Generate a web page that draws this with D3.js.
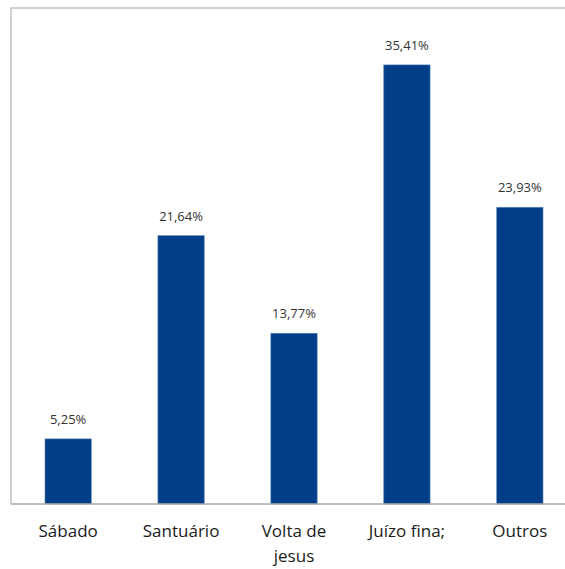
<!DOCTYPE html>
<html>
<head>
<meta charset="utf-8">
<script src="https://cdn.jsdelivr.net/npm/d3@7"></script>
<style>
  body { margin: 0; background: #fff; }
  svg { display: block; font-family: "Open Sans", sans-serif; }
</style>
</head>
<body>
<svg id="chart" width="565" height="569"></svg>
<script>
// Chart data
var categories = ["Sábado", "Santuário", "Volta de jesus", "Juízo fina;", "Outros"];
var values = [5.25, 21.64, 13.77, 35.41, 23.93];

var svg = d3.select("#chart");

// Plot box: left/top frame at 11/8, baseline at 504
// (don't call it "top", window.top is read-only)
var plotLeft = 11, plotTop = 8, plotBottom = 504, plotRight = 577;

var x = d3.scaleBand()
    .domain(categories)
    .range([plotLeft, plotRight])
    .paddingInner(0.59)
    .paddingOuter(0.301);

var y = d3.scaleLinear()
    .domain([0, 40])
    .range([plotBottom, plotTop]);

// Portuguese number format: comma for decimals
var pt = d3.formatLocale({decimal: ",", thousands: ".", grouping: [3], currency: ["R$", ""]});
var fmt = pt.format(".2f");

// Frame: top and left edges (the right edge is cropped off)
svg.append("path")
    .attr("d", "M" + plotLeft + "," + plotBottom + "V" + plotTop + "H565")
    .attr("fill", "none")
    .attr("stroke", "#c4c4c4")
    .attr("stroke-width", 1.5);

// Bars
svg.selectAll("rect.bar")
    .data(values)
  .enter().append("rect")
    .attr("class", "bar")
    .attr("x", function(d, i) { return x(categories[i]); })
    .attr("y", function(d) { return y(d); })
    .attr("width", x.bandwidth())
    .attr("height", function(d) { return plotBottom - y(d); })
    .attr("fill", "#003f87")
    .attr("stroke", "#5b84b8")
    .attr("stroke-width", 0.6);

// Value labels over the bars
svg.selectAll("text.value")
    .data(values)
  .enter().append("text")
    .attr("class", "value")
    .attr("x", function(d, i) { return x(categories[i]) + x.bandwidth() / 2; })
    .attr("y", function(d) { return y(d) - 15; })
    .attr("text-anchor", "middle")
    .style("font-size", "13px")
    .style("fill", "#333")
    .text(function(d) { return fmt(d) + "%"; });

// Category axis at the bottom
var xAxis = svg.append("g")
    .attr("transform", "translate(0," + plotBottom + ")")
    .call(d3.axisBottom(x).tickSize(0).tickPadding(21));

xAxis.select(".domain")
    .attr("d", "M" + plotLeft + ",0H565")
    .attr("stroke", "#a8a8a8")
    .attr("stroke-width", 1.5);

xAxis.selectAll("text")
    .style("font-size", "17px")
    .style("font-family", "\"Open Sans\", sans-serif")
    .style("fill", "#1a1a1a")
    .call(wrap, x.step() * 0.9);

// Split long tick labels into lines (after mbostock's wrap)
function wrap(text, width) {
  text.each(function() {
    var text = d3.select(this),
        words = text.text().split(/\s+/).reverse(),
        word, line = [], lineNumber = 0,
        lineHeight = 25,
        yy = text.attr("y"),
        dy = parseFloat(text.attr("dy")),
        tspan = text.text(null).append("tspan").attr("x", 0).attr("y", yy).attr("dy", dy + "em");
    while (word = words.pop()) {
      line.push(word);
      tspan.text(line.join(" "));
      if (tspan.node().getComputedTextLength() > width && line.length > 1) {
        line.pop();
        tspan.text(line.join(" "));
        line = [word];
        tspan = text.append("tspan").attr("x", 0).attr("y", yy)
            .attr("dy", (++lineNumber * lineHeight) + dy * 17 + "px")
            .text(word);
      }
    }
  });
}
</script>
</body>
</html>
